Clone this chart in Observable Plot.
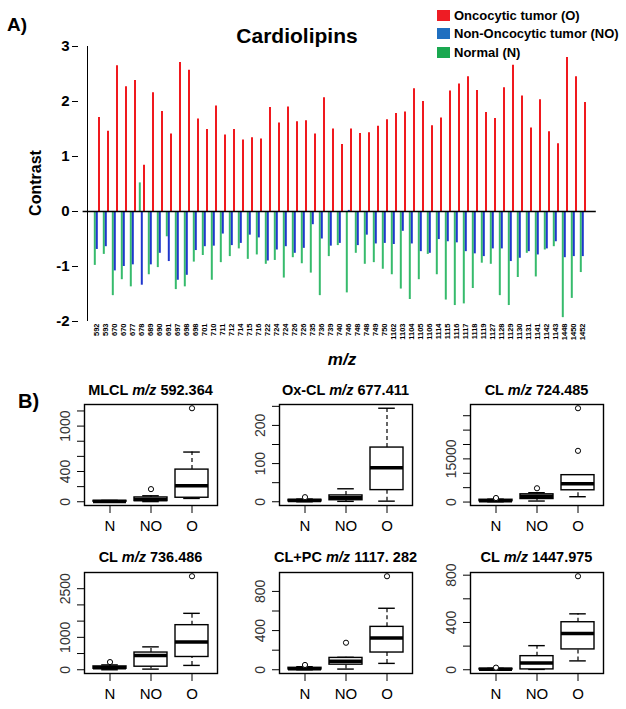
<!DOCTYPE html>
<html><head><meta charset="utf-8">
<script src="https://cdn.jsdelivr.net/npm/d3@7"></script>
<script src="https://cdn.jsdelivr.net/npm/@observablehq/plot@0.6"></script>
<style>
body{margin:0;background:#fff;font-family:"Liberation Sans",Arial,sans-serif;}
#root{position:relative;width:626px;height:709px;overflow:hidden;background:#fff;}
.abs{position:absolute;white-space:nowrap;line-height:1;}
.b{font-weight:bold;}
svg{overflow:visible;}
</style></head><body><div id="root"></div>
<script>
// ---------- Panel A data ----------
const mzLabels = ["592","593","670","670","677","678","689","690","691","697","698","698","701","710",
"711","712","714","715","716","722","724","724","726","726","735","736","739","740",
"746","748","748","749","750","1102","1103","1104","1105","1106","1114","1115","1116","1117",
"1118","1119","1127","1128","1129","1130","1131","1141","1142","1143","1448","1450","1452"];
const oncocytic = [1.71,1.46,2.65,2.27,2.38,0.84,2.16,1.82,1.41,2.71,2.57,1.68,1.49,1.92,
1.39,1.49,1.30,1.34,1.32,1.89,1.61,1.90,1.63,1.65,1.41,2.07,1.50,1.22,
1.50,1.42,1.43,1.55,1.67,1.78,1.81,2.23,2.00,1.56,1.70,2.19,2.32,2.45,
2.20,1.80,1.69,2.25,2.66,2.10,1.52,2.03,1.45,1.23,2.80,2.45,1.98];
const nonOncocytic = [-0.69,-0.64,-1.08,-1.00,-0.97,-1.34,-0.97,-0.76,-0.91,-1.25,-1.16,-0.71,-0.64,-0.63,
-0.41,-0.62,-0.58,-0.43,-0.48,-0.90,-0.70,-0.64,-0.76,-0.67,-0.24,-0.50,-0.63,-0.58,
0.02,-0.62,-0.43,-0.59,-0.58,-0.60,-0.36,-0.59,-0.73,-0.76,-0.51,-0.55,-0.57,-0.73,
-0.77,-0.82,-0.68,-0.68,-0.91,-0.85,-0.73,-0.79,-0.68,-0.55,-0.84,-0.82,-0.82];
const normal = [-0.98,-0.78,-1.53,-1.24,-1.37,0.52,-1.15,-1.02,-0.46,-1.42,-1.37,-0.92,-0.80,-1.25,
-0.93,-0.82,-0.68,-0.87,-0.79,-0.96,-0.89,-1.21,-0.84,-0.95,-1.12,-1.53,-0.82,-0.62,
-1.48,-0.76,-0.96,-0.93,-1.05,-1.15,-1.41,-1.60,-1.24,-0.78,-1.15,-1.61,-1.71,-1.68,
-1.40,-0.94,-0.96,-1.53,-1.71,-1.20,-0.76,-1.19,-0.70,-0.64,-1.93,-1.58,-1.11];
const contrastTicks = [-2,-1,0,1,2,3];
const seriesNames = ["Oncocytic tumor (O)","Non-Oncocytic tumor (NO)","Normal (N)"];
const legendColors = ["#ee1c24","#1f6fc0","#1aa850"];
const barColors = {O:"#f0191e", NO:"#1f36cc", N:"#36bb6c"};

// ---------- Panel B data: [lower whisker, Q1, median, Q3, upper whisker] for N, NO, O ----------
const groups = ["N","NO","O"];
const mlcl592 = [[0,1,5,12,18],[2,9,30,57,79],[44,53,210,425,657]];
const mlcl592Out = [[],[167],[1236]];
const oxcl677 = [[0,1,3,5,7],[1,4,10.5,16.6,34],[1.6,30.5,89,142,245]];
const oxcl677Out = [[12],[],[]];
const cl724 = [[100,300,450,800,1000],[350,1050,2000,2690,3250],[1850,4090,6400,9340,9340]];
const cl724Out = [[1400],[4790],[17800,32600]];
const cl736 = [[0,31,62,103,150],[20,94,437,531,706],[134,394,853,1375,1740]];
const cl736Out = [[237],[],[2884]];
const clpc1117 = [[0,3,10,20,31],[7,52,86,121,127],[65,176,324,438,628]];
const clpc1117Out = [[49],[276],[955]];
const cl1447 = [[0,2,5,8,12],[3,3,58,115,204],[75,172,307,402,473]];
const cl1447Out = [[18],[],[791]];
const tickSteps = [200,50,5000,500,200,200];
const tickLabels = [[0,400,1000],[0,100,200],[0,15000],[0,1000,2500],[0,400,800],[0,400,800]];
const boxPrefix = ["MLCL","Ox-CL","CL","CL","CL+PC","CL"];
const boxMz = ["592.364","677.411","724.485","736.486","1117. 282","1447.975"];

const root = document.getElementById("root");
function addText(html, css, cls="abs b"){
  const d = document.createElement("div"); d.className = cls; d.innerHTML = html;
  Object.assign(d.style, css); root.appendChild(d); return d;
}

// ---------- Panel A ----------
const idx = d3.range(mzLabels.length);
const W = 626, H = 360;
const plotA = Plot.plot({
  width: W, height: H,
  marginLeft: 82.6, marginRight: 30.2, marginTop: 46, marginBottom: 39,
  style: {fontFamily: "Liberation Sans, Arial, sans-serif", fontWeight: "bold", color: "#000", background: "transparent"},
  x: {type: "band", domain: idx, padding: 0, axis: null},
  y: {domain: [d3.min(contrastTicks), d3.max(contrastTicks)], axis: null},
  marks: [
    Plot.ruleX(idx, {x: d => d, y1: 0, y2: d => normal[d], stroke: barColors.N, strokeWidth: 2, dx: -2.2}),
    Plot.ruleX(idx, {x: d => d, y1: 0, y2: d => nonOncocytic[d], stroke: barColors.NO, strokeWidth: 2, dx: -0.2}),
    Plot.ruleX(idx, {x: d => d, y1: 0, y2: d => oncocytic[d], stroke: barColors.O, strokeWidth: 2, dx: 2}),
    Plot.ruleY([0], {stroke: "#000", strokeWidth: 1.6}),
    Plot.ruleX([0], {x: d => d, y1: d3.min(contrastTicks), y2: d3.max(contrastTicks), dx: -9.5, stroke: "#000", strokeWidth: 1}),
    Plot.axisY({ticks: contrastTicks, tickSize: 6, tickPadding: 3, dx: -4.6, fontSize: 15, label: null, tickFormat: d => String(d)}),
    Plot.axisX({tickSize: 0, tickPadding: 2, tickRotate: -90, fontSize: 7.5, label: null, tickFormat: i => mzLabels[i]})
  ]
});
plotA.style.position = "absolute"; plotA.style.left = "0px"; plotA.style.top = "0px";
root.appendChild(plotA);

addText("A)", {left: "7px", top: "15px", fontSize: "19px"});
addText("Cardiolipins", {left: "297px", top: "25px", fontSize: "21px", transform: "translateX(-50%)"});
addText("Contrast", {left: "36px", top: "183px", fontSize: "16px", transform: "translate(-50%,-50%) rotate(-90deg)"});
addText("<i>m/z</i>", {left: "342px", top: "351px", fontSize: "17px", transform: "translateX(-50%)"});

// legend
seriesNames.forEach((name, i) => {
  const sq = document.createElement("div");
  sq.className = "abs";
  Object.assign(sq.style, {left: "437px", top: (9.5 + i * 18.8) + "px", width: "13px", height: "11px", background: legendColors[i]});
  root.appendChild(sq);
  addText(name, {left: "454px", top: (8.5 + i * 18.8) + "px", fontSize: "13px"});
});

// ---------- Panel B ----------
addText("B)", {left: "18px", top: "391px", fontSize: "20px"});

const boxData = [mlcl592, oxcl677, cl724, cl736, clpc1117, cl1447];
const boxOut = [mlcl592Out, oxcl677Out, cl724Out, cl736Out, clpc1117Out, cl1447Out];
const colLeft = [84, 279, 470];
const rowTop = [404, 572];
const fw = 133, fh = 101;
const mL = 50, mR = 6, mT = 6, mB = 36;

boxData.forEach((stats, p) => {
  const col = p % 3, row = Math.floor(p / 3);
  const rows = groups.map((g, i) => ({g, lo: stats[i][0], q1: stats[i][1], med: stats[i][2], q3: stats[i][3], hi: stats[i][4]}));
  const outRows = groups.flatMap((g, i) => boxOut[p][i].map(v => ({g, v})));
  const all = stats.flat().concat(boxOut[p].flat());
  const lo = d3.min(all), hi = d3.max(all), pad = 0.04 * (hi - lo);
  const ticks = d3.range(0, hi + pad + 1e-9, tickSteps[p]);
  const labeled = tickLabels[p];
  const capInset = 0.25 * 0.8 * fw / 3.24;
  const svg = Plot.plot({
    width: fw + mL + mR, height: fh + mT + mB,
    marginLeft: mL, marginRight: mR, marginTop: mT, marginBottom: mB,
    style: {fontFamily: "Liberation Sans, Arial, sans-serif", color: "#000", background: "transparent"},
    x: {type: "band", domain: groups, paddingInner: 0.2, paddingOuter: 0.22, label: null},
    y: {domain: [lo - pad, hi + pad], label: null},
    marks: [
      Plot.ruleX(rows, {x: "g", y1: "q3", y2: "hi", strokeDasharray: "4,3", strokeWidth: 1.2}),
      Plot.ruleX(rows, {x: "g", y1: "lo", y2: "q1", strokeDasharray: "4,3", strokeWidth: 1.2}),
      Plot.tickY(rows, {x: "g", y: "hi", insetLeft: capInset, insetRight: capInset, strokeWidth: 1.4}),
      Plot.tickY(rows, {x: "g", y: "lo", insetLeft: capInset, insetRight: capInset, strokeWidth: 1.4}),
      Plot.barY(rows, {x: "g", y1: "q1", y2: "q3", fill: "white", stroke: "black", strokeWidth: 1.4}),
      Plot.tickY(rows, {x: "g", y: "med", strokeWidth: 3.5}),
      Plot.dot(outRows, {x: "g", y: "v", r: 2.6, stroke: "black", fill: "white", strokeWidth: 1}),
      Plot.frame({stroke: "#000", strokeWidth: 1.4}),
      Plot.axisY({ticks, tickSize: 7, tickPadding: 8, tickRotate: -90, fontSize: 14, fill: "#333", label: null,
        tickFormat: d => labeled.includes(d) ? String(d) : ""}),
      Plot.axisX({tickSize: 8, tickPadding: 7, fontSize: 15, label: null})
    ]
  });
  svg.style.position = "absolute";
  svg.style.left = (colLeft[col] - mL) + "px";
  svg.style.top = (rowTop[row] - mT) + "px";
  root.appendChild(svg);
  const titleTop = row === 0 ? 382.7 : 549.7;
  addText(boxPrefix[p] + " <i>m/z</i> " + boxMz[p], {left: (colLeft[col] + fw / 2) + "px", top: titleTop + "px", fontSize: "14.5px", transform: "translateX(-50%)"});
});
</script>
</body></html>
